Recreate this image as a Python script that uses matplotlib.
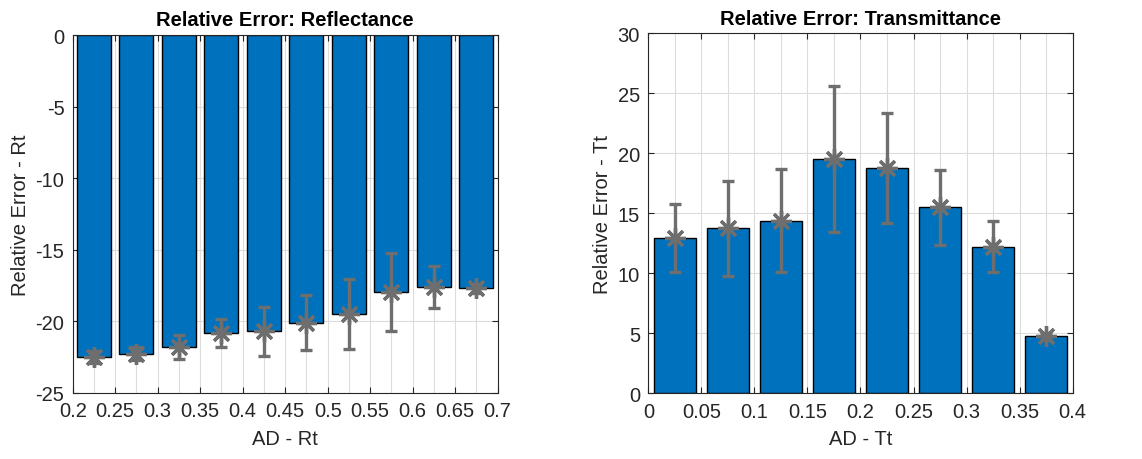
import numpy as np
import matplotlib
matplotlib.use('Agg')
import matplotlib.pyplot as plt

plt.rcParams['font.family'] = ['Liberation Sans', 'DejaVu Sans']
plt.rcParams['axes.unicode_minus'] = False

# reflectance: bin centres, mean relative error and its spread
ad_rt = [0.225, 0.275, 0.325, 0.375, 0.425, 0.475, 0.525, 0.575, 0.625, 0.675]
err_rt = [-22.5, -22.25, -21.8, -20.8, -20.7, -20.1, -19.5, -17.95, -17.6, -17.7]
std_rt = [0.4, 0.45, 0.85, 1.0, 1.73, 1.93, 2.43, 2.72, 1.48, 0.3]

# transmittance
ad_tt = [0.025, 0.075, 0.125, 0.175, 0.225, 0.275, 0.325, 0.375]
err_tt = [12.95, 13.75, 14.4, 19.5, 18.78, 15.5, 12.22, 4.75]
std_tt = [2.85, 3.96, 4.29, 6.07, 4.57, 3.13, 2.15, 0.3]

bar_col = '#0072BD'
eb_col = '#6E6E6E'
star = (8, 2, 0)


def panel(ax, x, y, e, xlim, ylim, xticks, yticks, xlab, ylab, title):
    ax.bar(x, y, width=0.04, color=bar_col, edgecolor='black', linewidth=1.0, zorder=2)
    ax.errorbar(x, y, yerr=e, fmt='none', ecolor=eb_col, elinewidth=2.4,
                capsize=4, capthick=2.4, zorder=3)
    ax.plot(x, y, linestyle='none', marker=star, markersize=15, markeredgewidth=2.4,
            color=eb_col, zorder=4)
    ax.set_xlim(xlim)
    ax.set_ylim(ylim)
    ax.set_xticks(xticks)
    ax.set_xticklabels([('%g' % t) for t in xticks])
    ax.set_yticks(yticks)
    ax.set_xticks(np.arange(xlim[0] + 0.025, xlim[1], 0.05), minor=True)
    ax.grid(True, which='both', axis='x', color='#dcdcdc', linewidth=0.8, zorder=0)
    ax.grid(True, which='major', axis='y', color='#dcdcdc', linewidth=0.8, zorder=0)
    ax.set_axisbelow(True)
    ax.tick_params(which='both', direction='in', top=True, right=True, labelsize=14.5,
                   colors='#262626', length=4, width=0.8, pad=6)
    ax.tick_params(which='minor', length=0)
    for s in ax.spines.values():
        s.set_color('#262626')
        s.set_linewidth(0.8)
    ax.set_xlabel(xlab, fontsize=14.5, color='#262626', labelpad=6)
    ax.set_ylabel(ylab, fontsize=14.5, color='#262626', labelpad=4)
    ax.set_title(title, fontsize=14.5, fontweight='bold', pad=7)


fig = plt.figure(figsize=(11.42, 4.6), dpi=100)
ax1 = fig.add_axes([0.0637, 0.1435, 0.3721, 0.778])
ax2 = fig.add_axes([0.5677, 0.1428, 0.3716, 0.7826])

panel(ax1, ad_rt, err_rt, std_rt, (0.2, 0.7), (-25, 0),
      [0.2, 0.25, 0.3, 0.35, 0.4, 0.45, 0.5, 0.55, 0.6, 0.65, 0.7],
      [-25, -20, -15, -10, -5, 0], 'AD - Rt', 'Relative Error - Rt',
      'Relative Error: Reflectance')
panel(ax2, ad_tt, err_tt, std_tt, (0, 0.4), (0, 30),
      [0, 0.05, 0.1, 0.15, 0.2, 0.25, 0.3, 0.35, 0.4],
      [0, 5, 10, 15, 20, 25, 30], 'AD - Tt', 'Relative Error - Tt',
      'Relative Error: Transmittance')

fig.savefig('out.png', dpi=100)
